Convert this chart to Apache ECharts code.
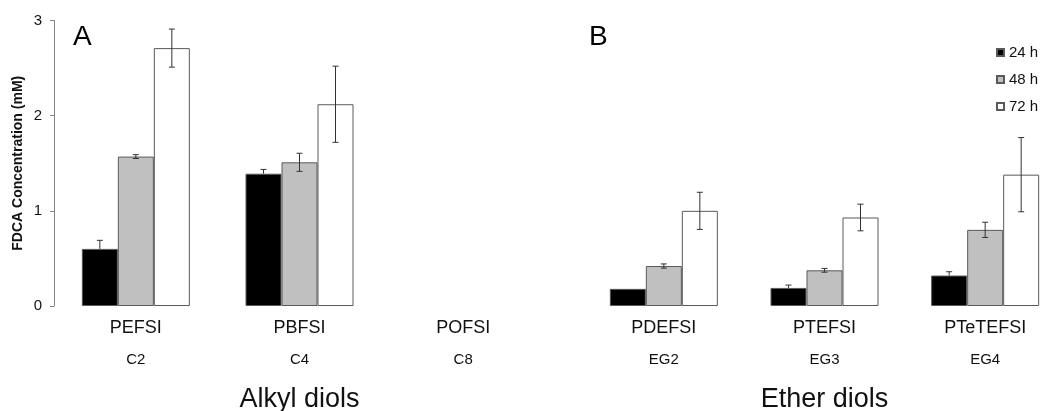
<!DOCTYPE html>
<html>
<head>
<meta charset="utf-8">
<script src="https://cdn.jsdelivr.net/npm/echarts@6/dist/echarts.min.js"></script>
<style>
  html, body { margin: 0; padding: 0; background: #fff; }
  #chart { width: 1040px; height: 411px; }
</style>
</head>
<body>
<div id="chart"></div>
<script>
// polímeros y dioles (panel A: alquílicos, panel B: éteres)
const categoriesA = ["PEFSI", "PBFSI", "POFSI"];
const diolsA = ["C2", "C4", "C8"];
const categoriesB = ["PDEFSI", "PTEFSI", "PTeTEFSI"];
const diolsB = ["EG2", "EG3", "EG4"];
const times = ["24 h", "48 h", "72 h"];

// medias (mM); null = sin barra
const a24 = [0.60, 1.39, null];
const a48 = [1.57, 1.51, null];
const a72 = [2.71, 2.12, null];
const b24 = [0.18, 0.19, 0.32];
const b48 = [0.42, 0.375, 0.80];
const b72 = [1.00, 0.93, 1.38];

// desviaciones (barras de error)
const a24Err = [0.09, 0.045, null];
const a48Err = [0.02, 0.095, null];
const a72Err = [0.20, 0.40, null];
const b24Err = [null, 0.03, 0.04];
const b48Err = [0.022, 0.02, 0.08];
const b72Err = [0.195, 0.14, 0.39];

const yTicks = [0, 1, 2, 3];

const FONT = "Liberation Sans, Arial, sans-serif";
const BAR_W = 36;
const fills = ["#000000", "#c0c0c0", "#ffffff"];

const chart = echarts.init(document.getElementById("chart"));

function xAxisFor(gridIndex, cats, subs, name) {
  return {
    type: "category",
    gridIndex,
    data: cats,
    axisLine: { show: false },
    axisTick: { show: false },
    axisLabel: {
      margin: 7,
      interval: 0,
      formatter: (v, i) => "{a|" + v + "}\n{b|" + subs[i] + "}",
      rich: {
        a: { fontSize: 18, lineHeight: 30, color: "#111", fontFamily: FONT },
        b: { fontSize: 15, lineHeight: 33, color: "#111", fontFamily: FONT }
      }
    },
    name,
    nameLocation: "middle",
    nameGap: 80,
    nameTextStyle: { fontSize: 27, color: "#111", fontFamily: FONT }
  };
}

function errorSeries(idx, means, errs) {
  const data = [];
  means.forEach((m, k) => {
    m.forEach((v, c) => {
      if (v != null && errs[k][c] != null) data.push([c, k, v, errs[k][c]]);
    });
  });
  return {
    type: "custom",
    xAxisIndex: idx,
    yAxisIndex: idx,
    silent: true,
    z: 5,
    data,
    renderItem: (params, api) => {
      const c = api.value(0), k = api.value(1), v = api.value(2), e = api.value(3);
      const top = api.coord([c, v + e]);
      const mid = api.coord([c, v]);
      const bot = api.coord([c, v - e]);
      const x = top[0] + (k - 1) * BAR_W;
      const cap = 3;
      const style = { stroke: "#333333", lineWidth: 1 };
      const children = [
        { type: "line", shape: { x1: x - cap, y1: top[1], x2: x + cap, y2: top[1] }, style }
      ];
      // sobre la barra negra solo se ve la mitad superior
      if (k === 0) {
        children.push({ type: "line", shape: { x1: x, y1: top[1], x2: x, y2: mid[1] }, style });
      } else {
        children.push({ type: "line", shape: { x1: x, y1: top[1], x2: x, y2: bot[1] }, style });
        children.push({ type: "line", shape: { x1: x - cap, y1: bot[1], x2: x + cap, y2: bot[1] }, style });
      }
      return { type: "group", children };
    }
  };
}

function barSeries(idx, sets) {
  return sets.map((vals, k) => ({
    name: times[k],
    type: "bar",
    xAxisIndex: idx,
    yAxisIndex: idx,
    data: vals,
    barWidth: BAR_W,
    barGap: "0%",
    itemStyle: { color: fills[k], borderColor: "#5a5a5a", borderWidth: 1 }
  }));
}

const option = {
  animation: false,
  backgroundColor: "#ffffff",
  textStyle: { fontFamily: FONT },
  grid: [
    { left: 54, top: 20.5, width: 491, height: 285.5, outerBoundsMode: "none" },
    { left: 583.5, top: 20.5, width: 482, height: 285.5, outerBoundsMode: "none" }
  ],
  legend: {
    data: times,
    orient: "vertical",
    left: 996,
    top: 45,
    icon: "rect",
    itemWidth: 7,
    itemHeight: 7,
    itemGap: 12,
    padding: 0,
    textStyle: { fontSize: 15, color: "#111", fontFamily: FONT }
  },
  xAxis: [
    xAxisFor(0, categoriesA, diolsA, "Alkyl diols"),
    xAxisFor(1, categoriesB, diolsB, "Ether diols")
  ],
  yAxis: [
    {
      type: "value",
      gridIndex: 0,
      min: yTicks[0],
      max: yTicks[yTicks.length - 1],
      interval: 1,
      axisLine: { show: true, lineStyle: { color: "#868686", width: 1 } },
      axisTick: { show: true, inside: false, length: 4, lineStyle: { color: "#868686" } },
      splitLine: { show: false },
      axisLabel: { margin: 12, fontSize: 15, color: "#111", fontFamily: FONT },
      name: "FDCA Concentration (mM)",
      nameLocation: "middle",
      nameGap: 29,
      nameTextStyle: { fontSize: 14, fontWeight: "bold", color: "#111", fontFamily: FONT }
    },
    {
      type: "value",
      gridIndex: 1,
      min: yTicks[0],
      max: yTicks[yTicks.length - 1],
      interval: 1,
      show: false
    }
  ],
  graphic: [
    { type: "text", left: 73, top: 23, style: { text: "A", fontSize: 28, fill: "#000", fontFamily: FONT } },
    { type: "text", left: 589, top: 23, style: { text: "B", fontSize: 28, fill: "#000", fontFamily: FONT } }
  ],
  series: [
    ...barSeries(0, [a24, a48, a72]),
    ...barSeries(1, [b24, b48, b72]),
    errorSeries(0, [a24, a48, a72], [a24Err, a48Err, a72Err]),
    errorSeries(1, [b24, b48, b72], [b24Err, b48Err, b72Err])
  ]
};

chart.setOption(option);
window.addEventListener("resize", () => chart.resize());
</script>
</body>
</html>
